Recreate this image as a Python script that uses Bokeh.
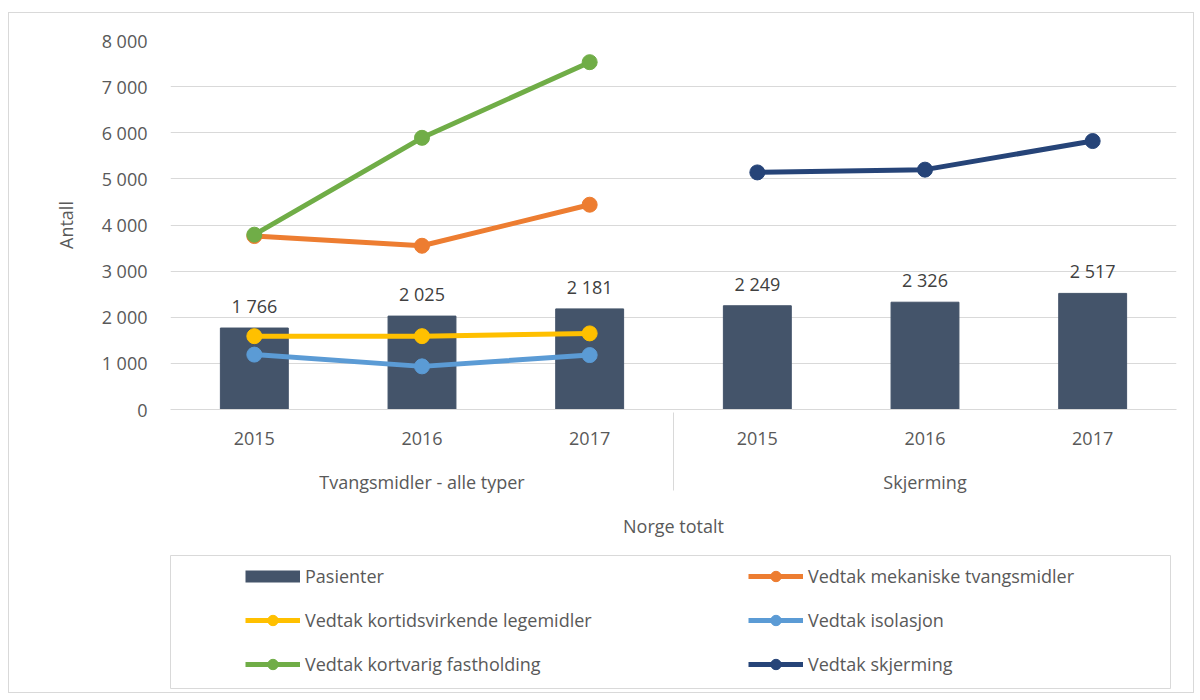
from bokeh.plotting import figure
from bokeh.models import (FactorRange, Range1d, ColumnDataSource, CustomJSTickFormatter,
                          FixedTicker, Legend, LegendItem)
from bokeh.layouts import column
from bokeh.core.properties import value
from bokeh.embed import file_html
from bokeh.resources import INLINE

# ---- data ----
groups = ["Tvangsmidler - alle typer", "Skjerming"]
years = ["2015", "2016", "2017"]
pasienter = [1766, 2025, 2181, 2249, 2326, 2517]
mekaniske = [3760, 3550, 4440]
kortidsvirkende = [1590, 1590, 1650]
isolasjon = [1190, 935, 1180]
fastholding = [3790, 5890, 7530]
skjerming = [5140, 5200, 5820]
y_ticks = [0, 1000, 2000, 3000, 4000, 5000, 6000, 7000, 8000]

FONT = "Open Sans"
FS = "18px"
TXT = "#595959"
GRID = "#d9d9d9"
BAR = "#44546A"
C_MEK = "#ED7D31"
C_KORT = "#FFC000"
C_ISO = "#5B9BD5"
C_FAST = "#70AD47"
C_SKJ = "#264478"

factors = [(g, y) for g in groups for y in years]
first = [(groups[0], y) for y in years]
second = [(groups[1], y) for y in years]

p = figure(width=1184, height=532, x_range=FactorRange(factors=factors, group_padding=0,
                                                         factor_padding=0, range_padding=0),
           y_range=Range1d(0, 8000), toolbar_location=None, output_backend="svg",
           min_border_left=161, min_border_right=17, min_border_top=27, min_border_bottom=136)
p.outline_line_color = None
p.xgrid.grid_line_color = None
p.ygrid.grid_line_color = GRID
p.ygrid.grid_line_width = 1

bar_src = ColumnDataSource(dict(x=factors, top=pasienter,
                                lab=[f"{v:,}".replace(",", " ") for v in pasienter]))
p.vbar(x="x", top="top", width=0.405, color=BAR, source=bar_src)
p.text(x="x", y="top", text="lab", source=bar_src, text_align="center", text_baseline="bottom",
       y_offset=-10, text_font=value(FONT), text_font_size=FS, text_color="#404040")

LW = 5
MS = 15

def series(xs, ys, color):
    src = ColumnDataSource(dict(x=xs, y=ys))
    p.line("x", "y", source=src, line_color=color, line_width=LW)
    p.scatter("x", "y", source=src, size=MS, color=color)

series(first, mekaniske, C_MEK)
series(first, kortidsvirkende, C_KORT)
series(first, isolasjon, C_ISO)
series(first, fastholding, C_FAST)
series(second, skjerming, C_SKJ)

# y axis
p.yaxis.ticker = FixedTicker(ticks=y_ticks)
p.yaxis.formatter = CustomJSTickFormatter(
    code="return tick.toString().replace(/\\B(?=(\\d{3})+(?!\\d))/g, ' ');")
p.yaxis.axis_line_color = None
p.yaxis.major_tick_line_color = None
p.yaxis.minor_tick_line_color = None
p.yaxis.major_tick_out = 0
p.yaxis.major_label_standoff = 23
p.yaxis.major_label_text_font = FONT
p.yaxis.major_label_text_font_size = FS
p.yaxis.major_label_text_color = TXT
p.yaxis.axis_label = "Antall"
p.yaxis.axis_label_text_font = FONT
p.yaxis.axis_label_text_font_size = FS
p.yaxis.axis_label_text_font_style = "normal"
p.yaxis.axis_label_text_color = TXT
p.yaxis.axis_label_standoff = 21

# x axis
p.xaxis.axis_line_color = GRID
p.xaxis.major_tick_line_color = None
p.xaxis.minor_tick_line_color = None
p.xaxis.major_tick_out = 0
p.xaxis.major_label_orientation = "horizontal"
p.xaxis.major_label_standoff = 22
p.xaxis.major_label_text_font = FONT
p.xaxis.major_label_text_font_size = FS
p.xaxis.major_label_text_color = TXT
p.xaxis.group_text_font = FONT
p.xaxis.group_text_font_size = FS
p.xaxis.group_text_font_style = "normal"
p.xaxis.group_text_color = TXT
p.xaxis.separator_line_color = GRID
p.xaxis.separator_line_width = 1
p.xaxis.axis_label = "Norge totalt"
p.xaxis.axis_label_text_font = FONT
p.xaxis.axis_label_text_font_size = FS
p.xaxis.axis_label_text_font_style = "normal"
p.xaxis.axis_label_text_color = TXT
p.xaxis.axis_label_standoff = 17

# ---- legend figure ----
p2 = figure(width=1184, height=147, x_range=Range1d(0, 1), y_range=Range1d(0, 1),
            toolbar_location=None, output_backend="svg", x_axis_location=None,
            y_axis_location=None, min_border_left=161, min_border_right=23,
            min_border_top=10, min_border_bottom=4)
p2.grid.visible = False
p2.outline_line_color = GRID

# swatch for the bar series: a thick butt-capped line gives a 55x12 block
rb = p2.line(x=[-10, -9], y=[-10, -10], line_color=BAR, line_width=12, line_cap="butt")
def dummy(color):
    l = p2.line(x=[-10, -9], y=[-10, -10], line_color=color, line_width=LW)
    s = p2.scatter(x=[-10], y=[-10], size=MS, color=color)
    return [l, s]

# column-first order: left column then right column
items = [
    LegendItem(label="Pasienter", renderers=[rb]),
    LegendItem(label="Vedtak kortidsvirkende legemidler", renderers=dummy(C_KORT)),
    LegendItem(label="Vedtak kortvarig fastholding", renderers=dummy(C_FAST)),
    LegendItem(label="Vedtak mekaniske tvangsmidler", renderers=dummy(C_MEK)),
    LegendItem(label="Vedtak isolasjon", renderers=dummy(C_ISO)),
    LegendItem(label="Vedtak skjerming", renderers=dummy(C_SKJ)),
]
leg = Legend(items=items, ncols=2, location=(75, 11), padding=0, margin=0, spacing=18,
             glyph_width=55, glyph_height=26, label_height=20, label_width=425,
             label_standoff=5, border_line_color=None, background_fill_alpha=0,
             label_text_font=FONT, label_text_font_size=FS, label_text_color=TXT)
p2.add_layout(leg)

layout = column(column(p), column(p2), spacing=0,
                styles={"border": "1px solid #d9d9d9", "margin-left": "8px", "margin-top": "12px"})
open("out.html", "w").write(file_html(layout, INLINE))
